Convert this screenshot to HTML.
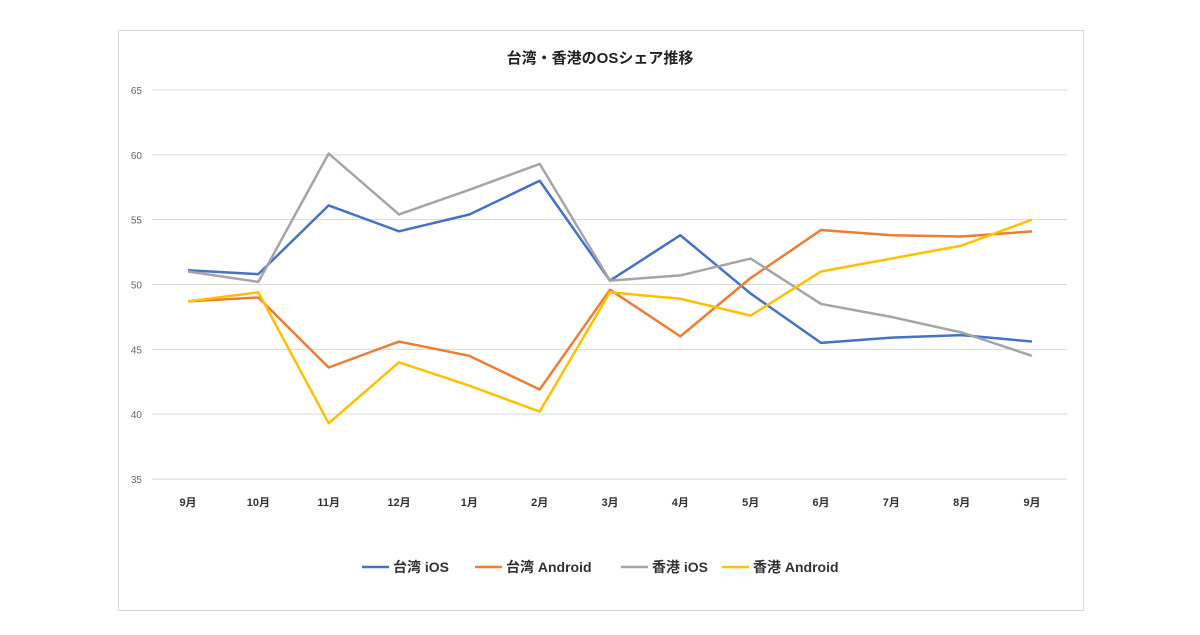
<!DOCTYPE html>
<html><head><meta charset="utf-8"><style>
body{margin:0;background:#fff;width:1200px;height:630px;overflow:hidden;font-family:"Liberation Sans","Noto Sans CJK JP",sans-serif}
</style></head><body>
<svg width="1200" height="630">
<rect x="118.5" y="30.5" width="965" height="580" fill="#fff" stroke="#d9d9d9"/>
<text x="600" y="63" text-anchor="middle" font-size="15" font-weight="bold" fill="#222" font-family="Liberation Sans, Noto Sans CJK JP, sans-serif">台湾・香港のOSシェア推移</text>
<g id="grid"></g><g id="xl"></g><g id="lines"></g><g id="legend"></g>
</svg>
<script>
const categories=["9月","10月","11月","12月","1月","2月","3月","4月","5月","6月","7月","8月","9月"];
const yTicks=[35,40,45,50,55,60,65];
const twIOS=[51.1,50.8,56.1,54.1,55.4,58.0,50.3,53.8,49.3,45.5,45.9,46.1,45.6];
const twAndroid=[48.7,49.0,43.6,45.6,44.5,41.9,49.6,46.0,50.5,54.2,53.8,53.7,54.1];
const hkIOS=[51.0,50.2,60.1,55.4,57.3,59.3,50.3,50.7,52.0,48.5,47.5,46.3,44.5];
const hkAndroid=[48.7,49.4,39.3,44.0,42.2,40.2,49.4,48.9,47.6,51.0,52.0,53.0,55.0];
const seriesNames=["台湾 iOS","台湾 Android","香港 iOS","香港 Android"];
const NS="http://www.w3.org/2000/svg";
const x=i=>188+i*(1032-188)/(categories.length-1);
const y=v=>479-(v-35)*(479-90)/30;
function mk(t,a,p){const e=document.createElementNS(NS,t);for(const k in a)e.setAttribute(k,a[k]);p.appendChild(e);return e;}
const grid=document.getElementById('grid');
yTicks.forEach(v=>{
 const l=mk('line',{x1:152,x2:1067,y1:y(v),y2:y(v),stroke:'#d9d9d9','stroke-width':1},grid);
 
 
 const t=mk('text',{x:142,y:y(v)+4,'text-anchor':'end','font-size':10,fill:'#666'},grid);
 t.textContent=v;
 
 
});
const xl=document.getElementById('xl');
categories.forEach((c,i)=>{
 const t=mk('text',{x:x(i),y:506,'text-anchor':'middle','font-size':11,'font-weight':'bold',fill:'#333'},xl);
 t.textContent=c;
 
 
});
const data=[twIOS,twAndroid,hkIOS,hkAndroid];
const colors=["#4472c4","#ed7d31","#a5a5a5","#ffc000"];
const lines=document.getElementById('lines');
data.forEach((s,k)=>{
 const p=mk('polyline',{points:s.map((v,i)=>x(i)+','+y(v)).join(' '),fill:'none',stroke:colors[k],'stroke-width':2.5,'stroke-linejoin':'round'},lines);
 
 
});
const lg=document.getElementById('legend');
const lx=[362,475,621,722];
seriesNames.forEach((n,k)=>{
 const l=mk('line',{x1:lx[k],x2:lx[k]+27,y1:567,y2:567,stroke:colors[k],'stroke-width':2.5},lg);
 
 
 const t=mk('text',{x:lx[k]+31,y:572,'font-size':14,'font-weight':'bold',fill:'#333'},lg);
 t.textContent=n;
 
 
});
</script>
</body></html>
